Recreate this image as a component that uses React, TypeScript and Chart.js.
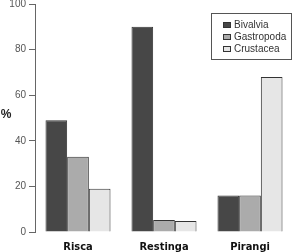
import React, { useEffect, useRef } from "react";
import { Chart, registerables } from "chart.js";

Chart.register(...registerables);

const categories = ["Risca", "Restinga", "Pirangi"];
const seriesNames = ["Bivalvia", "Gastropoda", "Crustacea"];
const bivalvia = [49, 90, 16];
const gastropoda = [33, 5.3, 16];
const crustacea = [19, 4.8, 68];
const yTicks = [0, 20, 40, 60, 80, 100];
const yTitle = "%";

const fills = ["#474747", "#ababab", "#e6e6e6"];

const overlay = {
  id: "overlay",
  afterDraw(chart: any) {
    const ctx = chart.ctx;
    const ca = chart.chartArea;
    ctx.save();
    ctx.font = "bold 12px 'Liberation Sans', Arial, sans-serif";
    ctx.fillStyle = "#222";
    ctx.textAlign = "center";
    ctx.textBaseline = "middle";
    ctx.fillText(yTitle, 6, (ca.top + ca.bottom) / 2 - 3);

    // legend box
    ctx.strokeStyle = "#555";
    ctx.lineWidth = 1;
    ctx.strokeRect(211.5, 13.5, 80, 46);
    chart.data.datasets.forEach((ds: any, i: number) => {
      const y = 25 + i * 12;
      ctx.fillStyle = ds.backgroundColor;
      ctx.fillRect(223, y - 3, 8, 6);
      ctx.strokeStyle = "#333";
      ctx.strokeRect(223.5, y - 2.5, 7, 5);
      ctx.fillStyle = "#333";
      ctx.font = "10px 'Liberation Sans', Arial, sans-serif";
      ctx.textAlign = "left";
      ctx.fillText(ds.label, 234, y);
    });
    ctx.restore();
  },
};

export default function App() {
  const ref = useRef<HTMLCanvasElement | null>(null);
  useEffect(() => {
    if (!ref.current) return;
    const seriesData = [bivalvia, gastropoda, crustacea];
    const chart = new Chart(ref.current, {
      type: "bar",
      data: {
        labels: categories,
        datasets: seriesNames.map((name, i) => ({
          label: name,
          data: seriesData[i],
          backgroundColor: fills[i],
          borderColor: "#333333",
          borderWidth: 1,
          barPercentage: 1.0,
          categoryPercentage: 0.756,
        })),
      },
      options: {
        animation: false,
        responsive: false,
        maintainAspectRatio: false,
        layout: { padding: { top: 0, right: 0, left: 0, bottom: 0 } },
        plugins: {
          legend: { display: false },
          tooltip: { enabled: false },
        },
        scales: {
          x: {
            offset: true,
            grid: { display: false, drawTicks: false },
            border: { display: false },
            afterFit: (scale: any) => {
              scale.height = 20;
            },
            ticks: {
              color: "#111",
              padding: 9,
              font: {
                family: "'DejaVu Sans Condensed', 'Liberation Sans Narrow', 'DejaVu Sans', sans-serif",
                weight: "bold",
                size: 11,
              },
            },
          },
          y: {
            min: 0,
            max: 100,
            afterBuildTicks: (scale: any) => {
              scale.ticks = yTicks.map((v) => ({ value: v }));
            },
            afterFit: (scale: any) => {
              scale.width = 35;
              scale.paddingTop = 4;
              scale.paddingBottom = 0;
            },
            grid: {
              display: true,
              drawOnChartArea: false,
              drawTicks: true,
              tickLength: 6,
              color: "#666",
            },
            border: { display: true, color: "#666", width: 1 },
            ticks: {
              color: "#555",
              padding: 3,
              font: { family: "'Liberation Sans', Arial, sans-serif", size: 10 },
            },
          },
        },
      },
      plugins: [overlay],
    });
    return () => chart.destroy();
  }, []);
  return (
    <div style={{ position: "fixed", left: 0, top: 0, width: 293, height: 252, background: "#fff" }}>
      <canvas ref={ref} width={293} height={252} style={{ width: 293, height: 252, display: "block" }} />
    </div>
  );
}
